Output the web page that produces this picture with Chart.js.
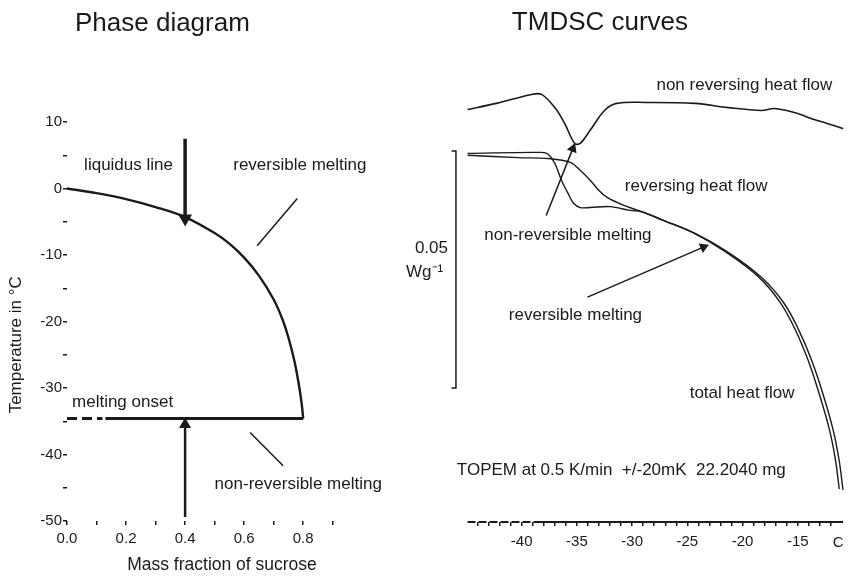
<!DOCTYPE html>
<html>
<head>
<meta charset="utf-8">
<script src="https://cdn.jsdelivr.net/npm/chart.js@4.4.1/dist/chart.umd.min.js"></script>
<style>
  body { margin: 0; background: #fff; }
  #wrap { position: relative; width: 850px; height: 586px; overflow: hidden; background: #fff; }
  #phase { position: absolute; left: 0; top: 0; }
  #tmdsc { position: absolute; left: 400px; top: 0; }
</style>
</head>
<body>
<div id="wrap">
  <canvas id="phase" width="420" height="586"></canvas>
  <canvas id="tmdsc" width="450" height="586"></canvas>
</div>
<script>
// ---- phase diagram (left) ----
const massFraction = [0.0, 0.1, 0.2, 0.3, 0.4, 0.5, 0.55, 0.6, 0.65, 0.7, 0.73, 0.75, 0.77, 0.785, 0.795, 0.80];
const liquidusTemp = [0, -0.7, -1.6, -2.8, -4.3, -6.7, -8.3, -10.4, -13.1, -16.7, -19.7, -22.4, -25.9, -29.4, -32.4, -34.6];
const onsetTemp = -34.6;
const onsetDashX = [0.0, 0.12];
const onsetSolidX = [0.13, 0.80];
const liquidusArrowY = [7.5, -4.5];
const onsetArrowY = [-49.4, -35.5];
const revPointerX = [0.78, 0.644];
const revPointerY = [-1.5, -8.6];
const nonRevPointerX = [0.62, 0.732];
const nonRevPointerY = [-36.7, -41.7];

// ---- TMDSC curves (right) ----
const nonRevT = [-44.9, -42.3, -39.1, -38.2, -37.0, -36.1, -35.2, -34.7, -33.8, -32.5, -31.4, -28.7, -24.3, -21.3, -18.3, -17.1, -15.4, -13.3, -11.2, -10.9];
const nonRevHF = [0.0875, 0.0888, 0.0907, 0.0907, 0.0879, 0.0845, 0.0803, 0.0803, 0.0831, 0.0873, 0.0888, 0.0890, 0.0888, 0.0879, 0.0873, 0.0877, 0.0869, 0.0852, 0.0837, 0.0834];
const revT = [-44.9, -38.2, -37.6, -37.0, -36.4, -35.8, -35.3, -34.7, -33.8, -32.0, -30.2, -29.1, -27.4, -24.5, -21.6, -18.6, -16.6, -15.25, -14.1, -13.05, -12.15, -11.6, -11.25];
const revHF = [0.0782, 0.0784, 0.0780, 0.0761, 0.0725, 0.0697, 0.0676, 0.0667, 0.0667, 0.0669, 0.0661, 0.0658, 0.0642, 0.0614, 0.0574, 0.0521, 0.0466, 0.0409, 0.0345, 0.0271, 0.0197, 0.0133, 0.0070];
const totalT = [-44.9, -40.3, -37.6, -35.6, -34.7, -33.8, -33.0, -32.3, -30.8, -29.0, -27.2, -24.3, -21.3, -18.3, -16.25, -14.91, -13.75, -12.69, -11.80, -11.26, -10.91];
const totalHF = [0.0778, 0.0773, 0.0771, 0.0763, 0.0746, 0.0725, 0.0703, 0.0689, 0.0672, 0.0657, 0.0640, 0.0612, 0.0572, 0.0519, 0.0464, 0.0407, 0.0343, 0.0269, 0.0195, 0.0131, 0.0068];
const scaleBarT = [-46.35, -45.95, -45.95, -46.35];
const scaleBarHF = [0.0787, 0.0787, 0.0284, 0.0284];
const axisDashT = [-44.9, -38.7];
const axisSolidT = [-38.7, -10.9];
const nonRevArrowT = [-37.78, -35.37];
const nonRevArrowHF = [0.0650, 0.0792];
const revArrowT = [-34.04, -23.54];
const revArrowHF = [0.0477, 0.0583];

const FONT = '"Liberation Sans", Arial, sans-serif';
const INK = '#1a1a1a';

function pts(xs, ys) {
    return xs.map((v, i) => ({ x: v, y: Array.isArray(ys) ? ys[i] : ys }));
}

function seg(xs, ys, width, extra) {
    return Object.assign({
        data: pts(xs, ys),
        borderColor: INK,
        backgroundColor: INK,
        borderWidth: width,
        pointRadius: 0,
        tension: 0,
        clip: false
    }, extra || {});
}

function arrow(xs, ys, width, rot) {
    return seg(xs, ys, width, {
        pointRadius: [0, 4.5],
        pointStyle: 'triangle',
        rotation: rot
    });
}

// writes the labels, kept in data coordinates
const notesPlugin = {
    id: 'notes',
    afterDatasetsDraw(chart, args, opts) {
        const { ctx } = chart;
        const x = chart.scales.x, y = chart.scales.y;
        ctx.save();
        ctx.fillStyle = INK;
        ctx.textBaseline = 'middle';
        (opts.items || []).forEach(n => {
            ctx.font = (n.size || 17) + 'px ' + FONT;
            ctx.textAlign = n.align || 'left';
            const px = x.getPixelForValue(n.x), py = y.getPixelForValue(n.y);
            if (n.rotate) {
                ctx.save();
                ctx.translate(px, py);
                ctx.rotate(n.rotate);
                ctx.textAlign = 'center';
                ctx.fillText(n.text, 0, 0);
                ctx.restore();
            } else {
                ctx.fillText(n.text, px, py);
            }
        });
        ctx.restore();
    }
};

function tickGrid(colorFn) {
    return {
        display: true,
        drawOnChartArea: false,
        drawTicks: true,
        tickLength: 4,
        lineWidth: 1.5,
        tickColor: colorFn
    };
}

new Chart(document.getElementById('phase'), {
    type: 'line',
    data: {
        datasets: [
            seg(massFraction, liquidusTemp, 2.4, { tension: 0.35 }),
            seg(onsetDashX, onsetTemp, 3, { borderDash: [10, 5] }),
            seg(onsetSolidX, onsetTemp, 3),
            arrow([0.4, 0.4], liquidusArrowY, 3.5, 180),
            arrow([0.4, 0.4], onsetArrowY, 2.5, 0),
            seg(revPointerX, revPointerY, 1.5),
            seg(nonRevPointerX, nonRevPointerY, 1.5)
        ]
    },
    options: {
        responsive: false,
        animation: false,
        events: [],
        layout: { padding: { left: 0, right: 43, top: 122, bottom: 10 } },
        plugins: {
            legend: { display: false },
            tooltip: { enabled: false },
            notes: {
                items: [
                    { text: 'Phase diagram', x: 0.027, y: 24.8, size: 26 },
                    { text: 'liquidus line', x: 0.058, y: 3.5 },
                    { text: 'reversible melting', x: 0.563, y: 3.5 },
                    { text: 'melting onset', x: 0.017, y: -32.2 },
                    { text: 'non-reversible melting', x: 0.50, y: -44.5 },
                    { text: 'Temperature in °C', x: -0.172, y: -23.5, rotate: -Math.PI / 2 }
                ]
            }
        },
        scales: {
            x: {
                type: 'linear',
                min: 0,
                max: 1.05,
                border: { display: false },
                grid: tickGrid(c => c.tick && c.tick.value > 0.95 ? 'rgba(0,0,0,0)' : INK),
                ticks: {
                    stepSize: 0.1,
                    autoSkip: false,
                    maxRotation: 0,
                    padding: 5,
                    color: INK,
                    font: { family: FONT, size: 15 },
                    callback: v => (Math.round(v * 10) % 2 === 0 && v < 0.85) ? v.toFixed(1) : ''
                },
                title: {
                    display: true,
                    text: 'Mass fraction of sucrose',
                    color: INK,
                    font: { family: FONT, size: 17.5 },
                    padding: { top: 0, bottom: 0 }
                },
                afterFit: s => { s.height = 55; }
            },
            y: {
                min: -50,
                max: 10,
                border: { display: false },
                grid: tickGrid(INK),
                ticks: {
                    stepSize: 5,
                    autoSkip: false,
                    padding: 1,
                    color: INK,
                    font: { family: FONT, size: 15 },
                    callback: v => v % 10 === 0 ? String(v) : ''
                },
                afterFit: s => { s.width = 67; }
            }
        }
    },
    plugins: [notesPlugin]
});

new Chart(document.getElementById('tmdsc'), {
    type: 'line',
    data: {
        datasets: [
            seg(nonRevT, nonRevHF, 1.6, { tension: 0.35 }),
            seg(revT, revHF, 1.4, { tension: 0.35 }),
            seg(totalT, totalHF, 1.4, { tension: 0.35 }),
            seg(scaleBarT, scaleBarHF, 1.5),
            seg(axisDashT, 0, 2.2, { borderDash: [8, 3] }),
            seg(axisSolidT, 0, 2),
            arrow(nonRevArrowT, nonRevArrowHF, 1.5, 22),
            arrow(revArrowT, revArrowHF, 1.5, 67)
        ]
    },
    options: {
        responsive: false,
        animation: false,
        events: [],
        layout: { padding: { left: 46, right: 0, top: 60, bottom: 24 } },
        plugins: {
            legend: { display: false },
            tooltip: { enabled: false },
            notes: {
                items: [
                    { text: 'TMDSC curves', x: -40.89, y: 0.1059, size: 26 },
                    { text: 'non reversing heat flow', x: -27.8, y: 0.0926 },
                    { text: 'reversing heat flow', x: -30.66, y: 0.0712 },
                    { text: 'non-reversible melting', x: -43.38, y: 0.0608 },
                    { text: 'reversible melting', x: -41.16, y: 0.0439 },
                    { text: 'total heat flow', x: -24.79, y: 0.0273 },
                    { text: 'TOPEM at 0.5 K/min  +/-20mK  22.2040 mg', x: -45.87, y: 0.0110 },
                    { text: '0.05', x: -46.67, y: 0.0581, align: 'right' },
                    { text: 'Wg\u207B\u00B9', x: -47.1, y: 0.0530, align: 'right' },
                    { text: 'C', x: -11.35, y: -0.0044, align: 'center', size: 15 }
                ]
            }
        },
        scales: {
            x: {
                type: 'linear',
                min: -46.85,
                max: -10.91,
                border: { display: false },
                grid: tickGrid(c => {
                    const v = c.tick ? c.tick.value : 0;
                    return (Math.abs(v - Math.round(v)) < 1e-6 && v >= -44) ? INK : 'rgba(0,0,0,0)';
                }),
                ticks: {
                    stepSize: 1,
                    autoSkip: false,
                    maxRotation: 0,
                    padding: 7,
                    color: INK,
                    font: { family: FONT, size: 15 },
                    callback: v => (Math.abs(v % 5) < 1e-6 && v > -44) ? String(v) : ''
                },
                afterFit: s => { s.height = 40; }
            },
            y: {
                display: false,
                min: 0,
                max: 0.098
            }
        }
    },
    plugins: [notesPlugin]
});
</script>
</body>
</html>
